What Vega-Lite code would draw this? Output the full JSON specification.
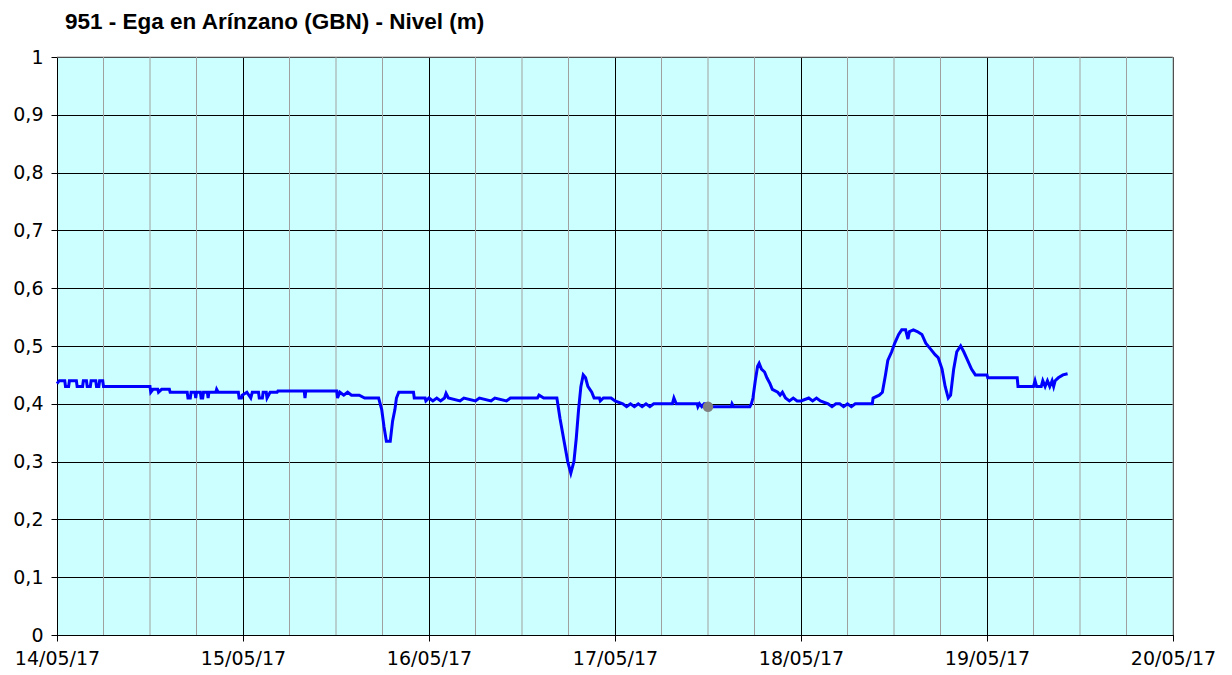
{
  "$schema": "https://vega.github.io/schema/vega-lite/v6.json",
  "width": 1116,
  "height": 578,
  "autosize": "none",
  "padding": {"left": 57, "top": 57, "right": 59, "bottom": 40},
  "background": "#FFFFFF",
  "title": {
    "text": "951 - Ega en Arínzano (GBN) - Nivel (m)",
    "anchor": "start",
    "frame": "group",
    "font": "Liberation Sans",
    "fontSize": 22.5,
    "fontWeight": "bold",
    "color": "#000000",
    "dx": 8,
    "dy": 32,
    "offset": 24,
    "baseline": "bottom"
  },
  "config": {
    "view": {"fill": "#CCFFFF", "stroke": "#A0A0A0", "strokeWidth": 1}
  },
  "datasets": {
    "minor": [
      {"t": "2017-05-14T06:00"}, {"t": "2017-05-14T12:00"}, {"t": "2017-05-14T18:00"},
      {"t": "2017-05-15T06:00"}, {"t": "2017-05-15T12:00"}, {"t": "2017-05-15T18:00"},
      {"t": "2017-05-16T06:00"}, {"t": "2017-05-16T12:00"}, {"t": "2017-05-16T18:00"},
      {"t": "2017-05-17T06:00"}, {"t": "2017-05-17T12:00"}, {"t": "2017-05-17T18:00"},
      {"t": "2017-05-18T06:00"}, {"t": "2017-05-18T12:00"}, {"t": "2017-05-18T18:00"},
      {"t": "2017-05-19T06:00"}, {"t": "2017-05-19T12:00"}, {"t": "2017-05-19T18:00"},
      {"t": "2017-05-20T00:00"}
    ],
    "top": [{"v": 1}],
    "now": [{"t": "2017-05-17T12:00", "v": 0.395}],
    "nivel": [
        {"t": "2017-05-14T00:00", "v": 0.435},
        {"t": "2017-05-14T00:18", "v": 0.44},
        {"t": "2017-05-14T01:00", "v": 0.44},
        {"t": "2017-05-14T01:06", "v": 0.43},
        {"t": "2017-05-14T01:30", "v": 0.43},
        {"t": "2017-05-14T01:36", "v": 0.44},
        {"t": "2017-05-14T02:30", "v": 0.44},
        {"t": "2017-05-14T02:36", "v": 0.43},
        {"t": "2017-05-14T03:18", "v": 0.43},
        {"t": "2017-05-14T03:24", "v": 0.44},
        {"t": "2017-05-14T03:48", "v": 0.44},
        {"t": "2017-05-14T03:54", "v": 0.43},
        {"t": "2017-05-14T04:18", "v": 0.43},
        {"t": "2017-05-14T04:24", "v": 0.44},
        {"t": "2017-05-14T05:00", "v": 0.44},
        {"t": "2017-05-14T05:06", "v": 0.43},
        {"t": "2017-05-14T05:24", "v": 0.43},
        {"t": "2017-05-14T05:30", "v": 0.44},
        {"t": "2017-05-14T05:54", "v": 0.44},
        {"t": "2017-05-14T06:00", "v": 0.43},
        {"t": "2017-05-14T12:00", "v": 0.43},
        {"t": "2017-05-14T12:06", "v": 0.42},
        {"t": "2017-05-14T12:24", "v": 0.425},
        {"t": "2017-05-14T13:00", "v": 0.425},
        {"t": "2017-05-14T13:06", "v": 0.42},
        {"t": "2017-05-14T13:30", "v": 0.425},
        {"t": "2017-05-14T14:30", "v": 0.425},
        {"t": "2017-05-14T14:36", "v": 0.42},
        {"t": "2017-05-14T16:48", "v": 0.42},
        {"t": "2017-05-14T16:54", "v": 0.41},
        {"t": "2017-05-14T17:12", "v": 0.41},
        {"t": "2017-05-14T17:18", "v": 0.42},
        {"t": "2017-05-14T17:48", "v": 0.42},
        {"t": "2017-05-14T17:54", "v": 0.41},
        {"t": "2017-05-14T18:00", "v": 0.42},
        {"t": "2017-05-14T18:30", "v": 0.42},
        {"t": "2017-05-14T18:36", "v": 0.41},
        {"t": "2017-05-14T18:48", "v": 0.41},
        {"t": "2017-05-14T18:54", "v": 0.42},
        {"t": "2017-05-14T19:24", "v": 0.42},
        {"t": "2017-05-14T19:30", "v": 0.41},
        {"t": "2017-05-14T19:36", "v": 0.42},
        {"t": "2017-05-14T20:30", "v": 0.42},
        {"t": "2017-05-14T20:36", "v": 0.425},
        {"t": "2017-05-14T20:48", "v": 0.42},
        {"t": "2017-05-14T23:24", "v": 0.42},
        {"t": "2017-05-14T23:30", "v": 0.41},
        {"t": "2017-05-14T23:48", "v": 0.41},
        {"t": "2017-05-14T23:54", "v": 0.415},
        {"t": "2017-05-15T00:30", "v": 0.42},
        {"t": "2017-05-15T01:00", "v": 0.41},
        {"t": "2017-05-15T01:12", "v": 0.42},
        {"t": "2017-05-15T02:00", "v": 0.42},
        {"t": "2017-05-15T02:06", "v": 0.41},
        {"t": "2017-05-15T02:30", "v": 0.41},
        {"t": "2017-05-15T02:36", "v": 0.42},
        {"t": "2017-05-15T03:00", "v": 0.42},
        {"t": "2017-05-15T03:06", "v": 0.41},
        {"t": "2017-05-15T03:30", "v": 0.42},
        {"t": "2017-05-15T04:24", "v": 0.42},
        {"t": "2017-05-15T04:30", "v": 0.422},
        {"t": "2017-05-15T07:54", "v": 0.422},
        {"t": "2017-05-15T08:00", "v": 0.41},
        {"t": "2017-05-15T08:06", "v": 0.422},
        {"t": "2017-05-15T12:06", "v": 0.422},
        {"t": "2017-05-15T12:12", "v": 0.41},
        {"t": "2017-05-15T12:30", "v": 0.42},
        {"t": "2017-05-15T13:00", "v": 0.415},
        {"t": "2017-05-15T13:30", "v": 0.42},
        {"t": "2017-05-15T14:00", "v": 0.415},
        {"t": "2017-05-15T15:00", "v": 0.415},
        {"t": "2017-05-15T15:42", "v": 0.41},
        {"t": "2017-05-15T17:30", "v": 0.41},
        {"t": "2017-05-15T17:54", "v": 0.39},
        {"t": "2017-05-15T18:12", "v": 0.36},
        {"t": "2017-05-15T18:30", "v": 0.335},
        {"t": "2017-05-15T19:00", "v": 0.335},
        {"t": "2017-05-15T19:18", "v": 0.37},
        {"t": "2017-05-15T19:36", "v": 0.39},
        {"t": "2017-05-15T19:48", "v": 0.41},
        {"t": "2017-05-15T20:06", "v": 0.42},
        {"t": "2017-05-15T22:00", "v": 0.42},
        {"t": "2017-05-15T22:06", "v": 0.41},
        {"t": "2017-05-15T23:30", "v": 0.41},
        {"t": "2017-05-15T23:36", "v": 0.405},
        {"t": "2017-05-16T00:00", "v": 0.41},
        {"t": "2017-05-16T00:30", "v": 0.405},
        {"t": "2017-05-16T01:00", "v": 0.41},
        {"t": "2017-05-16T01:30", "v": 0.405},
        {"t": "2017-05-16T02:00", "v": 0.41},
        {"t": "2017-05-16T02:12", "v": 0.418},
        {"t": "2017-05-16T02:30", "v": 0.41},
        {"t": "2017-05-16T04:00", "v": 0.405},
        {"t": "2017-05-16T04:30", "v": 0.41},
        {"t": "2017-05-16T06:00", "v": 0.405},
        {"t": "2017-05-16T06:30", "v": 0.41},
        {"t": "2017-05-16T08:00", "v": 0.405},
        {"t": "2017-05-16T08:30", "v": 0.41},
        {"t": "2017-05-16T10:00", "v": 0.405},
        {"t": "2017-05-16T10:30", "v": 0.41},
        {"t": "2017-05-16T14:00", "v": 0.41},
        {"t": "2017-05-16T14:12", "v": 0.415},
        {"t": "2017-05-16T14:48", "v": 0.41},
        {"t": "2017-05-16T16:30", "v": 0.41},
        {"t": "2017-05-16T16:54", "v": 0.375},
        {"t": "2017-05-16T17:30", "v": 0.33},
        {"t": "2017-05-16T17:54", "v": 0.30},
        {"t": "2017-05-16T18:18", "v": 0.28},
        {"t": "2017-05-16T18:42", "v": 0.30},
        {"t": "2017-05-16T19:00", "v": 0.34},
        {"t": "2017-05-16T19:18", "v": 0.39},
        {"t": "2017-05-16T19:36", "v": 0.43},
        {"t": "2017-05-16T19:54", "v": 0.45},
        {"t": "2017-05-16T20:12", "v": 0.445},
        {"t": "2017-05-16T20:30", "v": 0.43},
        {"t": "2017-05-16T21:00", "v": 0.42},
        {"t": "2017-05-16T21:18", "v": 0.41},
        {"t": "2017-05-16T22:00", "v": 0.41},
        {"t": "2017-05-16T22:06", "v": 0.405},
        {"t": "2017-05-16T22:30", "v": 0.41},
        {"t": "2017-05-16T23:30", "v": 0.41},
        {"t": "2017-05-17T00:00", "v": 0.405},
        {"t": "2017-05-17T01:00", "v": 0.40},
        {"t": "2017-05-17T01:30", "v": 0.395},
        {"t": "2017-05-17T02:00", "v": 0.40},
        {"t": "2017-05-17T02:30", "v": 0.395},
        {"t": "2017-05-17T03:00", "v": 0.40},
        {"t": "2017-05-17T03:30", "v": 0.395},
        {"t": "2017-05-17T04:00", "v": 0.40},
        {"t": "2017-05-17T04:30", "v": 0.395},
        {"t": "2017-05-17T05:00", "v": 0.40},
        {"t": "2017-05-17T07:24", "v": 0.40},
        {"t": "2017-05-17T07:36", "v": 0.41},
        {"t": "2017-05-17T07:54", "v": 0.40},
        {"t": "2017-05-17T10:36", "v": 0.40},
        {"t": "2017-05-17T10:42", "v": 0.395},
        {"t": "2017-05-17T10:54", "v": 0.40},
        {"t": "2017-05-17T11:12", "v": 0.395},
        {"t": "2017-05-17T11:30", "v": 0.40},
        {"t": "2017-05-17T12:00", "v": 0.40},
        {"t": "2017-05-17T12:30", "v": 0.395},
        {"t": "2017-05-17T15:00", "v": 0.395},
        {"t": "2017-05-17T15:06", "v": 0.40},
        {"t": "2017-05-17T15:18", "v": 0.395},
        {"t": "2017-05-17T17:24", "v": 0.395},
        {"t": "2017-05-17T17:36", "v": 0.40},
        {"t": "2017-05-17T17:48", "v": 0.41},
        {"t": "2017-05-17T18:06", "v": 0.44},
        {"t": "2017-05-17T18:24", "v": 0.465},
        {"t": "2017-05-17T18:36", "v": 0.47},
        {"t": "2017-05-17T18:54", "v": 0.46},
        {"t": "2017-05-17T19:18", "v": 0.455},
        {"t": "2017-05-17T19:36", "v": 0.445},
        {"t": "2017-05-17T20:00", "v": 0.435},
        {"t": "2017-05-17T20:18", "v": 0.425},
        {"t": "2017-05-17T21:00", "v": 0.42},
        {"t": "2017-05-17T21:18", "v": 0.415},
        {"t": "2017-05-17T21:36", "v": 0.42},
        {"t": "2017-05-17T22:00", "v": 0.41},
        {"t": "2017-05-17T22:30", "v": 0.405},
        {"t": "2017-05-17T23:00", "v": 0.41},
        {"t": "2017-05-17T23:30", "v": 0.405},
        {"t": "2017-05-18T00:00", "v": 0.405},
        {"t": "2017-05-18T01:00", "v": 0.41},
        {"t": "2017-05-18T01:30", "v": 0.405},
        {"t": "2017-05-18T02:00", "v": 0.41},
        {"t": "2017-05-18T02:30", "v": 0.405},
        {"t": "2017-05-18T03:30", "v": 0.40},
        {"t": "2017-05-18T04:00", "v": 0.395},
        {"t": "2017-05-18T04:30", "v": 0.40},
        {"t": "2017-05-18T05:00", "v": 0.40},
        {"t": "2017-05-18T05:30", "v": 0.395},
        {"t": "2017-05-18T06:00", "v": 0.40},
        {"t": "2017-05-18T06:30", "v": 0.395},
        {"t": "2017-05-18T07:00", "v": 0.40},
        {"t": "2017-05-18T09:12", "v": 0.40},
        {"t": "2017-05-18T09:18", "v": 0.41},
        {"t": "2017-05-18T10:06", "v": 0.415},
        {"t": "2017-05-18T10:30", "v": 0.42},
        {"t": "2017-05-18T10:54", "v": 0.45},
        {"t": "2017-05-18T11:12", "v": 0.475},
        {"t": "2017-05-18T11:42", "v": 0.49},
        {"t": "2017-05-18T12:06", "v": 0.505},
        {"t": "2017-05-18T12:36", "v": 0.52},
        {"t": "2017-05-18T13:00", "v": 0.528},
        {"t": "2017-05-18T13:30", "v": 0.528},
        {"t": "2017-05-18T13:48", "v": 0.512},
        {"t": "2017-05-18T14:00", "v": 0.525},
        {"t": "2017-05-18T14:30", "v": 0.528},
        {"t": "2017-05-18T15:00", "v": 0.525},
        {"t": "2017-05-18T15:36", "v": 0.52},
        {"t": "2017-05-18T16:06", "v": 0.505},
        {"t": "2017-05-18T16:42", "v": 0.495},
        {"t": "2017-05-18T17:18", "v": 0.485},
        {"t": "2017-05-18T17:42", "v": 0.48},
        {"t": "2017-05-18T18:12", "v": 0.46},
        {"t": "2017-05-18T18:36", "v": 0.43},
        {"t": "2017-05-18T19:00", "v": 0.41},
        {"t": "2017-05-18T19:18", "v": 0.415},
        {"t": "2017-05-18T19:42", "v": 0.46},
        {"t": "2017-05-18T20:06", "v": 0.49},
        {"t": "2017-05-18T20:36", "v": 0.50},
        {"t": "2017-05-18T21:00", "v": 0.49},
        {"t": "2017-05-18T21:30", "v": 0.475},
        {"t": "2017-05-18T22:00", "v": 0.46},
        {"t": "2017-05-18T22:30", "v": 0.45},
        {"t": "2017-05-19T00:00", "v": 0.45},
        {"t": "2017-05-19T00:06", "v": 0.445},
        {"t": "2017-05-19T03:54", "v": 0.445},
        {"t": "2017-05-19T04:00", "v": 0.43},
        {"t": "2017-05-19T06:00", "v": 0.43},
        {"t": "2017-05-19T06:12", "v": 0.44},
        {"t": "2017-05-19T06:24", "v": 0.43},
        {"t": "2017-05-19T07:00", "v": 0.43},
        {"t": "2017-05-19T07:12", "v": 0.44},
        {"t": "2017-05-19T07:30", "v": 0.43},
        {"t": "2017-05-19T07:48", "v": 0.44},
        {"t": "2017-05-19T08:06", "v": 0.43},
        {"t": "2017-05-19T08:24", "v": 0.44},
        {"t": "2017-05-19T08:36", "v": 0.43},
        {"t": "2017-05-19T08:48", "v": 0.44},
        {"t": "2017-05-19T09:12", "v": 0.445},
        {"t": "2017-05-19T09:48", "v": 0.45},
        {"t": "2017-05-19T10:24", "v": 0.452}
    ]
  },
  "layer": [
    {
      "data": {"name": "minor"},
      "mark": {"type": "rule", "color": "#A0A0A0", "strokeWidth": 1},
      "encoding": {
        "x": {
          "field": "t",
          "type": "temporal",
          "scale": {"domain": [
            {"year": 2017, "month": 5, "date": 14, "hours": 0},
            {"year": 2017, "month": 5, "date": 20, "hours": 0}
          ]},
          "axis": {
            "title": null,
            "tickCount": {"interval": "day", "step": 1},
            "format": "%d/%m/%y",
            "grid": true,
            "gridColor": "#000000",
            "gridWidth": 1,
            "gridOpacity": 1,
            "tickColor": "#000000",
            "tickSize": 6,
            "domainColor": "#000000",
            "labelPadding": 8,
            "labelFont": "DejaVu Sans",
            "labelFontSize": 19,
            "labelColor": "#000000",
            "labelOverlap": false,
            "labelFlush": false
          }
        }
      }
    },
    {
      "data": {"name": "top"},
      "mark": {"type": "rule", "color": "#A0A0A0", "strokeWidth": 1},
      "encoding": {
        "y": {
          "field": "v",
          "type": "quantitative",
          "scale": {"domain": [0, 1], "nice": false, "zero": true},
          "axis": {
            "title": null,
            "values": [0, 0.1, 0.2, 0.3, 0.4, 0.5, 0.6, 0.7, 0.8, 0.9, 1],
            "labelExpr": "replace(format(datum.value, '.1~f'), '.', ',')",
            "grid": true,
            "gridColor": "#000000",
            "gridOpacity": 1,
            "gridWidth": 1,
            "tickColor": "#000000",
            "tickSize": 6,
            "domainColor": "#000000",
            "labelPadding": 8,
            "labelFont": "DejaVu Sans",
            "labelFontSize": 19,
            "labelColor": "#000000"
          }
        }
      }
    },
    {
      "data": {"name": "nivel"},
      "mark": {"type": "line", "color": "#0000FF", "strokeWidth": 3},
      "encoding": {
        "x": {"field": "t", "type": "temporal"},
        "y": {"field": "v", "type": "quantitative"}
      }
    },
    {
      "data": {"name": "now"},
      "mark": {"type": "point", "filled": true, "color": "#808080", "size": 110, "opacity": 1},
      "encoding": {
        "x": {"field": "t", "type": "temporal"},
        "y": {"field": "v", "type": "quantitative"}
      }
    }
  ]
}
